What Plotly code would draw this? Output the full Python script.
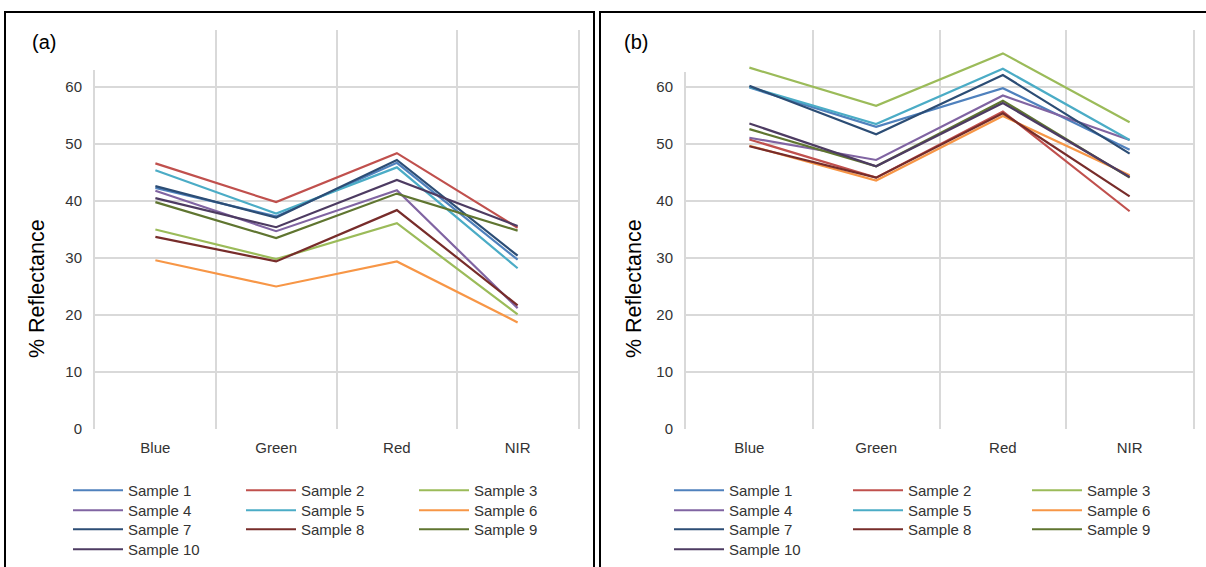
import plotly.graph_objects as go

W, H = 1206, 567

bands = ["Blue", "Green", "Red", "NIR"]
samples = [f"Sample {i}" for i in range(1, 11)]
colors = ["#4F81BD", "#C0504D", "#9BBB59", "#8064A2", "#4BACC6",
          "#F79646", "#2C4D75", "#772C2A", "#5F7530", "#4D3B62"]

# Panel (a) reflectance values (%)
a_s1 = [42.3, 37.3, 46.7, 29.7]
a_s2 = [46.6, 39.8, 48.4, 35.3]
a_s3 = [35.0, 29.8, 36.1, 20.1]
a_s4 = [41.8, 34.7, 41.9, 21.2]
a_s5 = [45.4, 37.8, 45.9, 28.2]
a_s6 = [29.6, 25.0, 29.4, 18.7]
a_s7 = [42.6, 37.1, 47.2, 30.4]
a_s8 = [33.7, 29.4, 38.4, 21.7]
a_s9 = [39.8, 33.5, 41.3, 34.8]
a_s10 = [40.5, 35.4, 43.7, 35.6]

# Panel (b) reflectance values (%)
b_s1 = [59.9, 53.0, 59.8, 49.0]
b_s2 = [50.8, 44.1, 55.7, 38.2]
b_s3 = [63.4, 56.7, 65.9, 53.8]
b_s4 = [51.1, 47.2, 58.5, 50.7]
b_s5 = [60.0, 53.5, 63.2, 50.7]
b_s6 = [49.7, 43.6, 54.9, 44.5]
b_s7 = [60.2, 51.7, 62.1, 48.3]
b_s8 = [49.6, 44.1, 55.4, 40.8]
b_s9 = [52.6, 46.1, 57.6, 44.1]
b_s10 = [53.6, 46.1, 57.2, 44.2]

panel_a = [a_s1, a_s2, a_s3, a_s4, a_s5, a_s6, a_s7, a_s8, a_s9, a_s10]
panel_b = [b_s1, b_s2, b_s3, b_s4, b_s5, b_s6, b_s7, b_s8, b_s9, b_s10]

y_ticks = [0, 10, 20, 30, 40, 50, 60, 70]
y_ticktext = ["0", "10", "20", "30", "40", "50", "60", ""]

FONT = "Liberation Sans, Arial, sans-serif"
TXT = "#333333"
GRID = "#D9D9D9"

def px_x(p):
    return p / W

def px_y(p):
    return 1 - p / H

# legend layout: 3 entries per row, one horizontal legend per row
row_tops = [474, 494, 513, 533]
leg_ids_a = ["legend", "legend2", "legend3", "legend4"]
leg_ids_b = ["legend5", "legend6", "legend7", "legend8"]

fig = go.Figure()
for i, (name, col) in enumerate(zip(samples, colors)):
    fig.add_trace(go.Scatter(x=bands, y=panel_a[i], name=name, mode="lines",
                             line=dict(color=col, width=2.2),
                             xaxis="x", yaxis="y", legend=leg_ids_a[i // 3]))
for i, (name, col) in enumerate(zip(samples, colors)):
    fig.add_trace(go.Scatter(x=bands, y=panel_b[i], name=name, mode="lines",
                             line=dict(color=col, width=2.2),
                             xaxis="x2", yaxis="y2", legend=leg_ids_b[i // 3]))

xcommon = dict(type="category", categoryorder="array", categoryarray=bands,
               range=[-0.5, 3.5], tickson="boundaries", showgrid=True,
               gridcolor=GRID, gridwidth=2, ticks="", showline=False,
               zeroline=False, tickfont=dict(family=FONT, size=15, color=TXT),
               ticklabelstandoff=8, fixedrange=True)
ycommon = dict(range=[0, 70], tickvals=y_ticks, ticktext=y_ticktext,
               showgrid=True, gridcolor=GRID, gridwidth=2, ticks="",
               showline=True, mirror=True, linecolor=GRID, linewidth=2,
               zeroline=False, tickfont=dict(family=FONT, size=15, color=TXT),
               ticklabelstandoff=8, fixedrange=True)

legcommon = dict(orientation="h", xanchor="left", yanchor="top",
                 xref="container", yref="container",
                 entrywidthmode="pixels", itemwidth=50,
                 font=dict(family=FONT, size=15, color=TXT),
                 bgcolor="rgba(0,0,0,0)", traceorder="normal")

legends = {}
for k, lid in enumerate(leg_ids_a):
    legends[lid] = dict(x=px_x(68), y=px_y(row_tops[k]), entrywidth=108,
                        **legcommon)
for k, lid in enumerate(leg_ids_b):
    legends[lid] = dict(x=px_x(669), y=px_y(row_tops[k]), entrywidth=114,
                        **legcommon)

dom_y = [px_y(429), px_y(30)]
fig.update_layout(
    width=W, height=H,
    margin=dict(l=0, r=0, t=0, b=0, autoexpand=False),
    paper_bgcolor="white", plot_bgcolor="white",
    xaxis=dict(domain=[px_x(95), px_x(578)], anchor="y", **xcommon),
    yaxis=dict(domain=dom_y, anchor="x", **ycommon),
    xaxis2=dict(domain=[px_x(686), px_x(1193)], anchor="y2", **xcommon),
    yaxis2=dict(domain=dom_y, anchor="x2", **ycommon),
    showlegend=True,
    hovermode=False,
    **legends,
)

shapes = []
# white label boxes over top-left corner of each plot area
shapes.append(dict(type="rect", xref="paper", yref="paper",
                   x0=px_x(7), x1=px_x(106), y0=px_y(70), y1=px_y(13),
                   fillcolor="white", line=dict(width=0), layer="above"))
shapes.append(dict(type="rect", xref="paper", yref="paper",
                   x0=px_x(602), x1=px_x(705), y0=px_y(72), y1=px_y(13),
                   fillcolor="white", line=dict(width=0), layer="above"))
# panel borders
shapes.append(dict(type="rect", xref="paper", yref="paper",
                   x0=px_x(5), x1=px_x(594), y0=px_y(570), y1=px_y(12),
                   line=dict(color="black", width=2), layer="above"))
shapes.append(dict(type="rect", xref="paper", yref="paper",
                   x0=px_x(600), x1=px_x(1210), y0=px_y(570), y1=px_y(12),
                   line=dict(color="black", width=2), layer="above"))
fig.update_layout(shapes=shapes)

ann = [
    dict(text="(a)", x=px_x(44), y=px_y(42), xref="paper", yref="paper",
         xanchor="center", yanchor="middle", showarrow=False,
         font=dict(family=FONT, size=20, color="black")),
    dict(text="(b)", x=px_x(636), y=px_y(42), xref="paper", yref="paper",
         xanchor="center", yanchor="middle", showarrow=False,
         font=dict(family=FONT, size=20, color="black")),
    dict(text="% Reflectance", x=px_x(37), y=px_y(289), xref="paper",
         yref="paper", xanchor="center", yanchor="middle", showarrow=False,
         textangle=-90, font=dict(family=FONT, size=21.5, color="black")),
    dict(text="% Reflectance", x=px_x(634), y=px_y(289), xref="paper",
         yref="paper", xanchor="center", yanchor="middle", showarrow=False,
         textangle=-90, font=dict(family=FONT, size=21.5, color="black")),
]
fig.update_layout(annotations=ann)

fig.write_html("out.html", config={"displayModeBar": False},
               post_script="document.body.style.margin='0px';")
